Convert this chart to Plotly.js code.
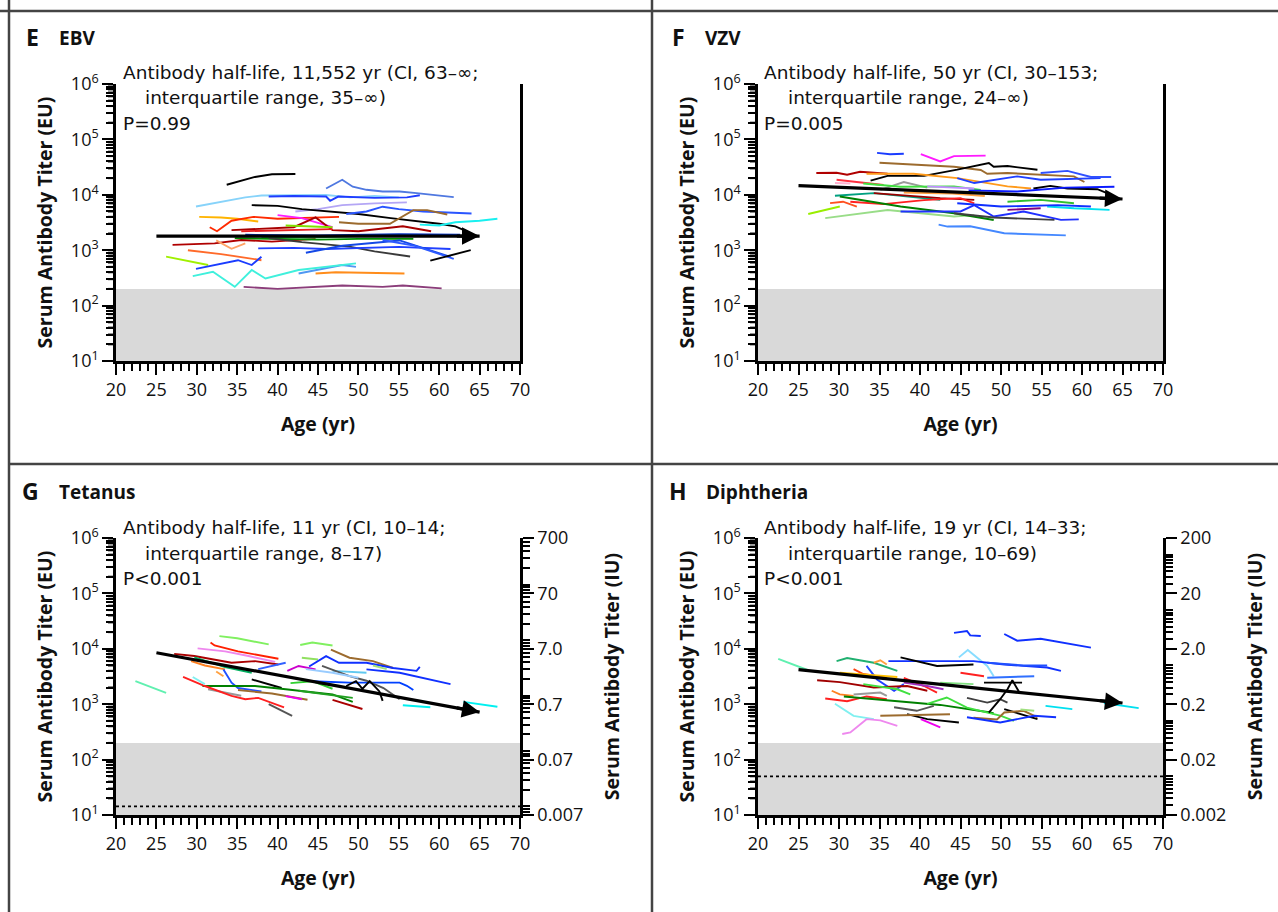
<!DOCTYPE html>
<html>
<head>
<meta charset="utf-8">
<script src="https://cdn.plot.ly/plotly-3.0.1.min.js"></script>
<style>html,body{margin:0;padding:0;background:#fff;}#chart{width:1278px;height:912px;}</style>
</head>
<body>
<div id="chart"></div>
<script>
// ---------- DATA ----------
const trendAges = [25, 65];
const trendE = [1800, 1800];
const trendF = [14700, 8400];
const trendG = [8500, 720];
const trendH = [4200, 1050];

const cutoffEU = 200;          // shaded region upper limit
const protectG = 14.3;         // 0.01 IU tetanus
const protectH = 50;           // 0.01 IU diphtheria

const ageE = [
 [33.7,36,37.2,39.3,42.2],[46,46.8,48,49.3,51,53,55.1,57.2,59.3,61.8],[29.9,33,36,38,42,46,49,52,55],
 [38.9,42,46,46.5,47.5,52,56,57.6],[42.2,45,48,52,56],[36.8,40,43,46,50,54,57,60,62,63.7],
 [48.5,51,53,55,58,62,64],[47.6,50,53.9,56.8,58.5,61],[57.6,60,62,65,67.2],[30.3,33,35,37.6],
 [31.6,32.5,34.3,37,40,44,47.6],[40,43,46.8],[34.3,37,42,44.7,46.8,50,55.5,59],[41,46.8],
 [27,32.2,35.5,39.3,44.7],[34.7,40,45,50,56.8],[38.9,43,48.9,52,56.4],[32.4,34.3,36],
 [37.6,42,46,50,55,61.4],[43.5,48,55.1,61.4],[53,57,61.8],[28.9,33,38],[26.2,31.4],
 [29.9,35.1,36.8,38],[42.6,48,49.7],[44.7,47.2,55.7],[29.5,32,34.7,36.8,38.5,42.6,49.7],
 [35.8,40,48,53,55.5,60.3],[58.9,63.9],[35.5,46.8],[36,45,55,62.6],[38,44,50]
];
const titerE = [
 [15200,18700,21000,23500,23700],[13000,15200,18700,14000,12300,11500,11500,10700,10000,9100],[6140,7500,9000,9700,9800,9900,9000,9500,9000],
 [9300,9500,9300,7800,9300,8800,9000,9800],[5000,5500,6500,7000,7300],[6500,6300,5500,5000,4500,3800,3400,3000,2700,2100],
 [4500,5000,6100,5500,5000,4700,4600],[3200,3000,3000,5300,5300,4400],[2900,2800,3200,3400,3700],[4000,3900,3700,3300],
 [2600,2200,3400,4000,3700,3800,4000],[4300,3800,2600],[2300,2400,2600,3900,2300,2200,2700,2200],[2800,2600],
 [1250,1330,1530,1430,1600],[1650,1600,1550,1600,1600],[1650,1400,1160,950,770],[1500,1060,1330],
 [1080,1100,1050,1100,1150,1050],[900,1200,1500,760],[1530,1200,700],[1000,850,660],[764,540],
 [460,660,540,764],[380,540,500],[380,400,380],[340,408,218,438,309,438,578],
 [218,200,230,218,230,205],[650,1000],[2200,2400],[1900,1850,1950,1900],[1750,1700,1800]
];

const ageF = [
 [34.7,36.3,38],[40.1,42.5,44.2,48.1],[35,44.2,47.5,48.3,50.8,59,60.3],[33.9,36,40.5,44.6,48.5,49.1,50.8,54.5],
 [27.2,29.7,31,32.6,36],[33.4,39.2,44.6,50.8,53.7],[29.7,33.4,35.5],[29.5,31.4],[35.1,38,40.9],
 [33,37.6,44.2,47.5],[44.6,46.7,52,54.9,62.3],[54.9,58.2,61.1,63.6],[54,56.1,58.2,61.9,63.6],
 [46,52,58,64],[29.5,34.3,42.5],[34.3,42.5,46.7],[31.4,35.5,40.5,45,46.7],[28.9,30.5,32.2],
 [26.2,30.1],[28.3,36,44.2,46.7],[30.1,37.6,44.2,49.1],[37.6,45,46.7,49.1,52.8,57.4,59.6],
 [44.2,49.1,56.6],[55.7,59,63.4],[50.8,54.9],[42.3,43.4,46.2,50.4,58],[44.6,50,57,61.1],
 [50.8,54.9,59],[40.9,46.7],[38,44,48]
];
const titerF = [
 [57000,54000,55000],[54000,40000,50000,51000],[38000,32000,28000,24000,24700,21500,17000],[18000,22000,22000,28400,37400,32000,33000,28400],
 [24700,25000,23000,26000,24000],[24000,24000,20000,14200,13000],[18700,16300,15000],[16300,16000],[12300,17000,13500],
 [16000,14000,14200,12300],[20000,16300,21500,18700,20000],[24700,27000,21000,21000],[13000,14500,13000,12600,10000],
 [12000,11500,13500,14000],[9600,10700,8100],[10700,8700,8100],[7500,6800,8000,8700,7000],[7060,7500,6140],
 [4500,6140],[3800,5300,4050,4300],[9300,6140,4650,3500],[5000,5000,6500,4050,5000,3520,3600],
 [4650,3900,3520],[6140,5700,5340],[5340,5700],[2900,2670,2700,2020,1850],[7060,6140,6500,6140],
 [7500,8100,7060],[14200,13000],[11000,10500,9500]
];

const ageG = [
 [32.8,35,38.9],[42.8,44.3,46.8],[31.7,32.2,35.1,40.1],[30.1,33.5,36.4,39.7],[46.6,48.9,51.8,54.3],
 [27.2,29.7,34.3,37.2,40.1],[29.3,31,33.5],[32.4,33.3],[29.7,33.5,36.8],[33.3,34.3,35.1,38],[43,45],
 [43.9,46,47.6,51,54.3,57.2,57.6],[51,55.1,61.4],[44.3,48.9,55.1,56,56.8],[46.8,51],[41.2,42.6,44.7],
 [45.5,48.9,51,53.1,55.1],[36.8,38.5,40.5],[48.5,49.7,50.5,51.4,52.6,53],[30.7,37.2,41,46.8,49.3],
 [31.4,34.3,35.5],[28.3,31,34.3,36,37.6,40.8],[35.1,39.3,43.7],[41,43],[38.9,41.8],[46.8,50.5],
 [55.5,58.9],[63,67.2],[22.4,26.2],[29.5,31],[51.8,53.5],[41.6,44.3,46.8],[37.6,41],[43.5,46.8,50],[42.6,49.3]
];
const titerG = [
 [16900,15500,12000],[11700,13000,11500],[13000,11500,9000,6600],[10200,9000,7400,5800],[9700,6900,6000,4500],
 [8100,7400,5600,6000,5200],[6000,5000,4250],[3900,3200],[7000,4700,3700],[4250,2450,1960,1700],[6900,6400],
 [4800,7380,5600,5600,4500,4000,4700],[4250,3700,2300],[2600,2450,2450,2150,1800],[4000,3700],[4000,4900,4250],
 [4900,3200,2650,1960,1230],[2800,2350,1960],[2130,2600,1900,2600,1700,1150],[2130,2130,1860,1500,1100],
 [1860,1550,1420],[3100,2130,1410,1230,1300,880],[1800,1560,1200],[1400,1230],[1000,617],[1200,820],
 [960,880],[1100,900],[2600,1600],[3100,2300],[5000,4300],[2400,2600,1900],[4300,5600],[4300,3700,3000],[1750,1300]
];

const ageH = [
 [44.2,45.8,46.2,47.5],[50.4,52,54.9,57,61.1],[44.8,45.9,48.3,49.1],[36.1,42.5,46.6,50.4,55.7,57.4],
 [37.6,39.6,42.1,46.6],[48.3,52.8,55.7],[48.3,54.1],[29.7,31,34.3,37.2],[34.3,35.1,35.9],[22.5,26.2],
 [31.8,33,35.9],[33.4,34.7,36.8,38],[30.1,37.2],[38,40.5,42.1],[27.3,30.1,34.3,38.4,40.9],[38,40.9,42.9],
 [33,34.7,37.2,38.8],[42.5,46.6],[29.1,30.1,31.8],[31.8,35.1,35.9],[28.3,31,33.4,35.9],
 [30.6,36.3,42.5,48.7,49.1],[40.9,43.3,45.8,50,51.6],[45.8,48.3,49.9,50.8],[48.5,49.9,50.8,51.4,52.2],
 [47.9,52.6],[50.4,54.5],[38.4,40.9,44.8],[36.8,39.6,41.7],[35.1,39.6,43.7],[46.6,49.5,50.4,52.8,54.5],
 [52.4,54.1],[55.5,58.8],[62.7,67],[29.5,31.8,34.3],[30.4,31.4,33.4,35.1,37.2],[40.1,42.5],
 [45.8,49.9,54.1,56.8],[45,47.9]
];
const titerH = [
 [19400,21000,17500,17000],[18500,14000,15200,13500,10500],[7000,9500,4900,3200],[6000,6000,6000,5200,4600,4000],
 [7000,6000,4900,5200],[5600,5000,5000],[3000,3200],[6000,6800,5600,4000],[5600,6200,5200],[6600,4100],
 [4300,3500,3000],[4900,2800,1750,2300],[3700,3100],[3000,2130,1620],[2700,2500,2000,2130,1750],[2450,2130,1860],
 [2300,2130,1860,1500],[2450,2300],[1750,1500,1410],[1500,1620,1410],[1270,1130,1380,1230],
 [1380,1160,970,708,680],[1010,1320,870,617,500],[1300,1070,1230,1070],[708,1230,1860,2700,1700],
 [2450,2450],[813,537],[660,537,468],[880,760,933],[617,640,660],[570,530,708,760,580],
 [800,760],[933,813],[1050,850],[1020,617,537],[290,309,537,510,407],[537,380],
 [580,468,617,580],[3700,3200]
];

const xTicks = [20,25,30,35,40,45,50,55,60,65,70];
const yTicksEU = [10,100,1000,10000,100000,1000000];
const yTickTextEU = ['10<sup>1</sup>','10<sup>2</sup>','10<sup>3</sup>','10<sup>4</sup>','10<sup>5</sup>','10<sup>6</sup>'];
const yTicksIUG = [0.007,0.07,0.7,7,70,700];
const yTickTextIUG = ['0.007','0.07','0.7','7.0','70','700'];
const yTicksIUH = [0.002,0.02,0.2,2,20,200];
const yTickTextIUH = ['0.002','0.02','0.2','2.0','20','200'];

const panelLetters = ['E','F','G','H'];
const panelNames = ['EBV','VZV','Tetanus','Diphtheria'];
const halfLife1 = ['Antibody half-life, 11,552 yr (CI, 63\u2013\u221e;','Antibody half-life, 50 yr (CI, 30\u2013153;','Antibody half-life, 11 yr (CI, 10\u201314;','Antibody half-life, 19 yr (CI, 14\u201333;'];
const halfLife2 = ['interquartile range, 35\u2013\u221e)','interquartile range, 24\u2013\u221e)','interquartile range, 8\u201317)','interquartile range, 10\u201369)'];
const pValues = ['P=0.99','P=0.005','P<0.001','P<0.001'];

// ---------- STYLES ----------
const colE = ['#000000','#4f78e0','#87d3fa','#1f3cff','#b4a6f5','#000000','#2a55ff','#9c6b2e','#19f0f0','#ffb400',
 '#ff2a00','#ff1aff','#a80000','#7fe000','#b00000','#008c00','#3a3a3a','#ffa366','#2040ff','#1448e6','#2e5bff',
 '#ff6a2a','#a0f000','#1a3cff','#4f97f2','#ff8c1a','#3ff0dc','#8b3d7a','#000000','#e82020','#0030c0','#20a040'];
const colF = ['#1a3cff','#ff1aff','#9c6b2e','#000000','#b00000','#ff9a1a','#ff3040','#ffb0d0','#9a9a9a','#40e040',
 '#2040ff','#3050ff','#000000','#0a1aff','#00a080','#990000','#ff2020','#ff5020','#99ee00','#99dd88','#008000',
 '#2030ff','#404040','#00e0f0','#800080','#4488ff','#1030ff','#30c030','#c090ff','#ffa040'];
const colG = ['#80f060','#80f060','#ff2000','#ee88ee','#9c6b2e','#aa0000','#ff8020','#ffa040','#00b060','#2050ff',
 '#90e060','#1030ff','#1030ff','#0040ff','#60c8f0','#cc00cc','#555555','#000000','#000000','#008000','#999999',
 '#ff2020','#9c6b2e','#ee00ee','#555555','#aa0000','#00f0f0','#00f0f0','#60f0b0','#80f0f0','#a0e080','#30d030',
 '#3060ff','#99ccff','#20a020'];
const colH = ['#1030ff','#1030ff','#88ddff','#1030ff','#000000','#2050ff','#3070ff','#20b070','#ffa040','#60f0b0',
 '#ff4010','#2040ff','#ffc000','#ff2020','#a00000','#a030c0','#40e040','#80e080','#ff8020','#999999','#ff2020',
 '#008000','#40e040','#404040','#000000','#000000','#000000','#000000','#555555','#9c6b2e','#9c6b2e','#a0e080',
 '#00e0f0','#00e0f0','#80f0f0','#ee88ee','#ee00ee','#1030ff','#ff2020'];

const FONT = 'Open Sans, Noto Sans, sans-serif';
const NOTE_FONT = 'DejaVu Sans, Open Sans, sans-serif';
const TXT = '#111';
const W = 1278, H = 912;
const px = v => v / W, py = v => 1 - v / H;

const traces = [];
const annotations = [];
function panel(xa, ya, ages, titers, cols, trend, protect) {
  traces.push({x:[20,70,70,20], y:[10,10,cutoffEU,cutoffEU], xaxis:xa, yaxis:ya, mode:'lines', fill:'toself',
    fillcolor:'#d9d9d9', line:{width:0, color:'#d9d9d9'}, hoverinfo:'skip'});
  if (protect) traces.push({x:[20,70], y:[protect,protect], xaxis:xa, yaxis:ya, mode:'lines',
    line:{color:'#000', width:1.8, dash:'dot'}, hoverinfo:'skip'});
  ages.forEach((a,i) => traces.push({x:a, y:titers[i], xaxis:xa, yaxis:ya, mode:'lines',
    line:{color:cols[i % cols.length], width:1.9}}));
  traces.push({x:trendAges, y:trend, xaxis:xa, yaxis:ya, mode:'lines', line:{color:'#000', width:3.2}});
  // arrowhead at the end of the trend line (annotation positions on log axes are log10 values)
  const l0 = Math.log10(trend[0]), l1 = Math.log10(trend[1]);
  const tailAge = trendAges[1] - 3;
  const tailLog = l0 + (l1 - l0) * (tailAge - trendAges[0]) / (trendAges[1] - trendAges[0]);
  annotations.push({xref:xa, yref:ya, axref:xa, ayref:ya, x:trendAges[1], y:l1, ax:tailAge, ay:tailLog,
    text:'', showarrow:true, arrowhead:2, arrowsize:1.1, arrowwidth:3.2, arrowcolor:'#000', standoff:0, startstandoff:0});
}
panel('x','y',ageE,titerE,colE,trendE,null);
panel('x2','y2',ageF,titerF,colF,trendF,null);
panel('x3','y3',ageG,titerG,colG,trendG,protectG);
panel('x4','y4',ageH,titerH,colH,trendH,protectH);
const dummy = (xa, ya, yv) => traces.push({x:[45], y:[yv], xaxis:xa, yaxis:ya, mode:'markers', marker:{opacity:0, size:1}, hoverinfo:'skip'});
dummy('x3','y5',1); dummy('x4','y6',1);

const minorX = [];
for (let a = 21; a < 70; a++) if (a % 5) minorX.push(a);
function minorLog(decades) { const o=[]; decades.slice(0,-1).forEach(d => { for (let m=2;m<=9;m++) o.push(d*m); }); return o; }
const minorY = minorLog(yTicksEU);

const xDomL = [px(116), px(520)], xDomR = [px(758), px(1163)];
const yDomT = [py(361), py(84)], yDomB = [py(815), py(538)];

function xAx(dom, anchor) {
  return {domain:dom, anchor:anchor, range:[20,70], tickmode:'array', tickvals:xTicks, ticks:'outside', ticklen:11,
    tickwidth:2, tickcolor:'#000', showgrid:false, zeroline:false,
    showline:true, linewidth:2.5, linecolor:'#000', tickfont:{size:18, color:TXT},
    minor:{tickmode:'array', tickvals:minorX, ticks:'outside', ticklen:7, tickwidth:2, tickcolor:'#000'},
    title:{text:'<b>Age (yr)</b>', font:{size:19.5, color:TXT}, standoff:18}};
}
function yAx(dom, anchor, mirror) {
  return {domain:dom, anchor:anchor, type:'log', range:[1,6], tickmode:'array', tickvals:yTicksEU, ticktext:yTickTextEU,
    ticks:'outside', ticklen:11, tickwidth:2, tickcolor:'#000', showgrid:false, zeroline:false,
    showline:true, linewidth:2.5, linecolor:'#000', mirror:mirror, tickfont:{size:18, color:TXT},
    minor:{tickmode:'array', tickvals:minorY, ticks:'outside', ticklen:7, tickwidth:2, tickcolor:'#000'},
    title:{text:'<b>Serum Antibody Titer (EU)</b>', font:{size:19.5, color:TXT}, standoff:14}};
}
function yRight(over, anchor, vals, text) {
  return {overlaying:over, anchor:anchor, side:'right', type:'log',
    range:[Math.log10(vals[0]), Math.log10(vals[vals.length-1])], tickmode:'array', tickvals:vals, ticktext:text,
    ticks:'outside', ticklen:11, tickwidth:2, tickcolor:'#000', showgrid:false, zeroline:false,
    showline:true, linewidth:2.5, linecolor:'#000', tickfont:{size:18, color:TXT},
    minor:{dtick:'D1', ticks:'outside', ticklen:7, tickwidth:2, tickcolor:'#000'},
    title:{text:'<b>Serum Antibody Titer (IU)</b>', font:{size:19.5, color:TXT}, standoff:24}};
}

const panelPos = [
  {lx:24, nx:57, ty:37, ax:121, ax2:143, ay:72},
  {lx:670, nx:703, ty:37, ax:762, ax2:786, ay:72},
  {lx:20, nx:57, ty:491, ax:121, ax2:143, ay:527},
  {lx:667, nx:704, ty:491, ax:762, ax2:786, ay:527}
];
panelPos.forEach((p,i) => {
  annotations.push({xref:'paper', yref:'paper', x:px(p.lx), y:py(p.ty), xanchor:'left', yanchor:'middle', showarrow:false,
    text:'<b>'+panelLetters[i]+'</b>', font:{size:23, color:TXT}});
  annotations.push({xref:'paper', yref:'paper', x:px(p.nx), y:py(p.ty+1), xanchor:'left', yanchor:'middle', showarrow:false,
    text:'<b>'+panelNames[i]+'</b>', font:{size:19, color:TXT}});
  annotations.push({xref:'paper', yref:'paper', x:px(p.ax), y:py(p.ay), xanchor:'left', yanchor:'middle', showarrow:false,
    text:halfLife1[i], font:{family:NOTE_FONT, size:18.5, color:TXT}});
  annotations.push({xref:'paper', yref:'paper', x:px(p.ax2), y:py(p.ay+26), xanchor:'left', yanchor:'middle', showarrow:false,
    text:halfLife2[i], font:{family:NOTE_FONT, size:18.5, color:TXT}});
  annotations.push({xref:'paper', yref:'paper', x:px(p.ax), y:py(p.ay+51), xanchor:'left', yanchor:'middle', showarrow:false,
    text:pValues[i], font:{family:NOTE_FONT, size:18.5, color:TXT}});
});

const bc = '#444';
const shapes = [
  {type:'line', xref:'paper', yref:'paper', x0:0, x1:1, y0:py(11), y1:py(11), line:{color:bc, width:2.5}},
  {type:'line', xref:'paper', yref:'paper', x0:px(9), x1:px(9), y0:0, y1:1, line:{color:bc, width:2.5}},
  {type:'line', xref:'paper', yref:'paper', x0:px(652), x1:px(652), y0:0, y1:1, line:{color:bc, width:2.5}},
  {type:'line', xref:'paper', yref:'paper', x0:px(9), x1:1, y0:py(464), y1:py(464), line:{color:bc, width:2.5}}
];
// EU-axis minor ticks, placed on the EU axis' log scale within each panel's domain
const euRange = [1, 6];
[[xDomL, yDomT], [xDomR, yDomT], [xDomL, yDomB], [xDomR, yDomB]].forEach(([xd, yd]) => {
  minorY.forEach(v => {
    const f = (Math.log10(v) - euRange[0]) / (euRange[1] - euRange[0]);
    const yy = yd[0] + f * (yd[1] - yd[0]);
    shapes.push({type:'line', xref:'paper', yref:'paper', x0:xd[0] - 8/W, x1:xd[0] - 1/W, y0:yy, y1:yy,
      line:{color:'#000', width:2}});
  });
});

const layout = {
  width:W, height:H, autosize:false, margin:{l:0,r:0,t:0,b:0}, showlegend:false,
  paper_bgcolor:'#fff', plot_bgcolor:'rgba(0,0,0,0)', font:{family:FONT, size:18, color:TXT},
  xaxis:xAx(xDomL,'y'), yaxis:yAx(yDomT,'x',true),
  xaxis2:xAx(xDomR,'y2'), yaxis2:yAx(yDomT,'x2',true),
  xaxis3:xAx(xDomL,'y3'), yaxis3:yAx(yDomB,'x3',false),
  xaxis4:xAx(xDomR,'y4'), yaxis4:yAx(yDomB,'x4',false),
  yaxis5:yRight('y3','x3',yTicksIUG,yTickTextIUG),
  yaxis6:yRight('y4','x4',yTicksIUH,yTickTextIUH),
  annotations:annotations, shapes:shapes
};
Plotly.newPlot('chart', traces, layout, {displayModeBar:false});
</script>
</body>
</html>
